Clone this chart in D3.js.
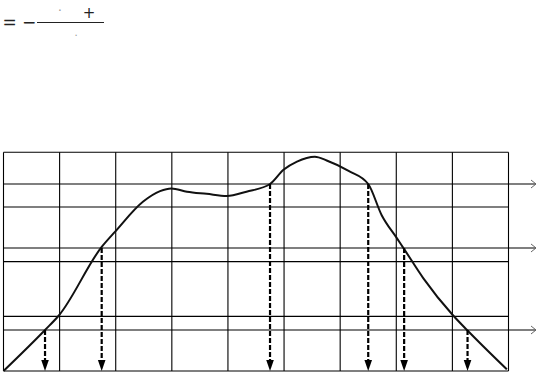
<!DOCTYPE html>
<html>
<head>
<meta charset="utf-8">
<script src="https://cdn.jsdelivr.net/npm/d3@7"></script>
<style>
  body { margin: 0; background: #fff; }
  svg { display: block; }
</style>
</head>
<body>
<div id="chart"></div>
<script>
// curve (grid units: 9 columns, 4 rows)
const curveX = [0, 0.74, 0.99, 1.75, 1.99, 2.49, 2.79, 2.99, 3.27, 3.62, 3.98, 4.33, 4.75, 4.99, 5.23, 5.55, 5.76, 6.15, 6.5, 6.74, 7.01, 7.14, 7.48, 8.01, 8.27, 8.97];
const curveY = [0, 0.75, 1.02, 2.27, 2.55, 3.10, 3.29, 3.34, 3.28, 3.24, 3.20, 3.28, 3.42, 3.68, 3.83, 3.92, 3.85, 3.66, 3.42, 2.85, 2.43, 2.23, 1.70, 1.02, 0.74, 0.03];

// threshold levels (horizontal arrows) and drop points (dashed arrows)
const levels = [0.75, 2.25, 3.42];
const dropX = [0.74, 1.75, 4.75, 6.5, 7.14, 8.27];
const dropLevel = [0.75, 2.25, 3.42, 3.42, 2.25, 0.75];

const cols = d3.range(0, 10);
const rows = d3.range(0, 5);

const width = 537;
const height = 376;

const x = d3.scaleLinear().domain([0, 9]).range([3.5, 508.5]);
const y = d3.scaleLinear().domain([0, 4]).range([371, 152.3]);

const svg = d3.select("#chart")
  .append("svg")
  .attr("width", width)
  .attr("height", height);

// formula at the top
const f = svg.append("g")
    .attr("font-family", "DejaVu Sans, sans-serif")
    .attr("fill", "#222");
f.append("text").attr("x", 9.5).attr("y", 28).attr("text-anchor", "middle")
  .attr("font-size", 17).text("=");
f.append("text").attr("x", 29).attr("y", 27.5).attr("text-anchor", "middle")
  .attr("font-size", 17).text("−");
f.append("line").attr("x1", 37).attr("x2", 104).attr("y1", 22.5).attr("y2", 22.5)
  .attr("stroke", "#222").attr("stroke-width", 1);
f.append("text").attr("x", 60).attr("y", 15).attr("text-anchor", "middle")
  .attr("font-size", 12).attr("fill", "#999").text("·");
f.append("text").attr("x", 89).attr("y", 17.5).attr("text-anchor", "middle")
  .attr("font-size", 15).text("+");
f.append("text").attr("x", 76).attr("y", 36).attr("text-anchor", "middle")
  .attr("font-size", 10).attr("fill", "#999").text(".");

// grid
const grid = svg.append("g").attr("stroke", "#000").attr("stroke-width", 1.1);
grid.selectAll(".v")
  .data(cols)
  .join("line")
    .attr("x1", d => x(d)).attr("x2", d => x(d))
    .attr("y1", y(0)).attr("y2", y(4));
grid.selectAll(".h")
  .data(rows)
  .join("line")
    .attr("x1", x(0)).attr("x2", x(9))
    .attr("y1", d => y(d)).attr("y2", d => y(d));

// horizontal level arrows
const lv = svg.append("g").attr("stroke", "#000").attr("fill", "none");
lv.selectAll("line")
  .data(levels)
  .join("line")
    .attr("x1", x(0)).attr("x2", 536)
    .attr("y1", d => y(d)).attr("y2", d => y(d))
    .attr("stroke-width", 1.1);
lv.selectAll("path")
  .data(levels)
  .join("path")
    .attr("stroke", "#666")
    .attr("d", d => `M531,${y(d) - 4}L536,${y(d)}L531,${y(d) + 4}`);

// curve
const line = d3.line()
  .x(d => x(d[0]))
  .y(d => y(d[1]))
  .curve(d3.curveMonotoneX);

svg.append("path")
  .datum(d3.zip(curveX, curveY))
  .attr("fill", "none")
  .attr("stroke", "#111")
  .attr("stroke-width", 2)
  .attr("d", line);

// dashed drop arrows
const drops = svg.append("g");
drops.selectAll("line")
  .data(d3.zip(dropX, dropLevel))
  .join("line")
    .attr("x1", d => x(d[0])).attr("x2", d => x(d[0]))
    .attr("y1", d => y(d[1])).attr("y2", y(0) - 9)
    .attr("stroke", "#000")
    .attr("stroke-width", 2.2)
    .attr("stroke-dasharray", "5,2");
drops.selectAll("path")
  .data(dropX)
  .join("path")
    .attr("fill", "#000")
    .attr("d", d => `M${x(d) - 3.8},${y(0) - 11}L${x(d) + 3.8},${y(0) - 11}L${x(d)},${y(0)}Z`);
</script>
</body>
</html>
